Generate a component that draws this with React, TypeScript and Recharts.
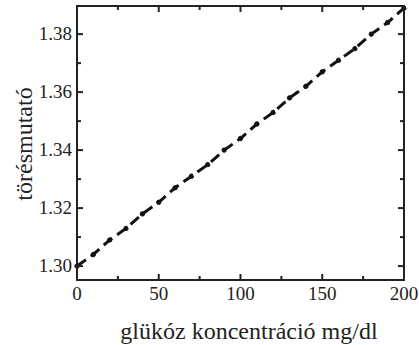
import React from "react";
import { LineChart, Line, XAxis, YAxis } from "recharts";

const glucose = [0, 10, 20, 30, 40, 50, 60, 70, 80, 90, 100, 110, 120, 130, 140, 150, 160, 170, 180, 190, 200];
const refIndex = [
  1.3, 1.304, 1.309, 1.313, 1.318, 1.322, 1.327, 1.331, 1.335, 1.34, 1.344,
  1.349, 1.353, 1.358, 1.362, 1.367, 1.371, 1.375, 1.38, 1.384, 1.389,
];
const xTicks = [0, 25, 50, 75, 100, 125, 150, 175, 200];
const xLabels = [0, 50, 100, 150, 200];
const yTicks = [1.3, 1.31, 1.32, 1.33, 1.34, 1.35, 1.36, 1.37, 1.38];
const yLabels = ["1.30", "1.32", "1.34", "1.36", "1.38"];

const data = glucose.map((g, i) => ({ g, n: refIndex[i] }));

const W = 419;
const H = 345;
const LEFT = 77;
const TOP = 6;
const RIGHT = 404;
const BOTTOM = 280;

const INK = "#222";
const FONT = "Liberation Serif";

const isYMajor = (v: number) => yLabels.includes(Number(v).toFixed(2));

// bottom ticks point up into the plot; the same x gets a mirrored tick on the top edge
function BottomTick(props: any) {
  const { x, y, payload } = props;
  const major = xLabels.includes(payload.value);
  const len = major ? 6 : 4;
  return (
    <g>
      <line x1={x} y1={y} x2={x} y2={y - len} stroke={INK} strokeWidth={2} />
      <line x1={x} y1={TOP} x2={x} y2={TOP + len} stroke={INK} strokeWidth={2} />
      {major && (
        <text x={x} y={y + 20} textAnchor="middle" fontSize={19} fontFamily={FONT} fill={INK}>
          {payload.value}
        </text>
      )}
    </g>
  );
}

// left ticks point right into the plot; mirrored on the right edge
function LeftTick(props: any) {
  const { x, y, payload } = props;
  const major = isYMajor(payload.value);
  const len = major ? 6 : 4;
  return (
    <g>
      <line x1={x} y1={y} x2={x + len} y2={y} stroke={INK} strokeWidth={2} />
      <line x1={RIGHT} y1={y} x2={RIGHT - len} y2={y} stroke={INK} strokeWidth={2} />
      {major && (
        <text x={x - 5} y={y + 6} textAnchor="end" fontSize={19} fontFamily={FONT} fill={INK}>
          {Number(payload.value).toFixed(2)}
        </text>
      )}
    </g>
  );
}

export default function App() {
  return (
    <div style={{ position: "absolute", left: 0, top: 0, width: W, height: H, background: "#fff" }}>
      <LineChart
        width={W}
        height={H}
        data={data}
        margin={{ top: TOP, right: W - RIGHT, bottom: 0, left: 0 }}
      >
        <XAxis
          dataKey="g"
          type="number"
          domain={[0, 200]}
          ticks={xTicks}
          interval={0}
          height={H - BOTTOM}
          tickSize={0}
          tickMargin={0}
          tickLine={false}
          axisLine={false}
          tick={<BottomTick />}
        />
        <YAxis
          type="number"
          domain={[1.2952, 1.3897]}
          allowDataOverflow
          ticks={yTicks}
          interval={0}
          width={LEFT}
          tickSize={0}
          tickMargin={0}
          tickLine={false}
          axisLine={false}
          tick={<LeftTick />}
        />
        <Line
          dataKey="n"
          type="linear"
          stroke="#111"
          strokeWidth={3}
          strokeDasharray="11 6"
          dot={{ r: 2.2, fill: "#111", stroke: "#111", strokeWidth: 1 }}
          isAnimationActive={false}
        />
      </LineChart>
      {/* frame and axis titles */}
      <svg
        width={W}
        height={H}
        style={{ position: "absolute", left: 0, top: 0, pointerEvents: "none" }}
      >
        <rect x={LEFT} y={TOP} width={RIGHT - LEFT} height={BOTTOM - TOP} fill="none" stroke={INK} strokeWidth={2} />
        <text x={249} y={339} textAnchor="middle" fontSize={24} fontFamily={FONT} fill={INK}>
          glükóz koncentráció mg/dl
        </text>
        <text
          x={32}
          y={144}
          transform="rotate(-90 32 144)"
          textAnchor="middle"
          fontSize={24}
          fontFamily={FONT}
          fill={INK}
        >
          törésmutató
        </text>
      </svg>
    </div>
  );
}
